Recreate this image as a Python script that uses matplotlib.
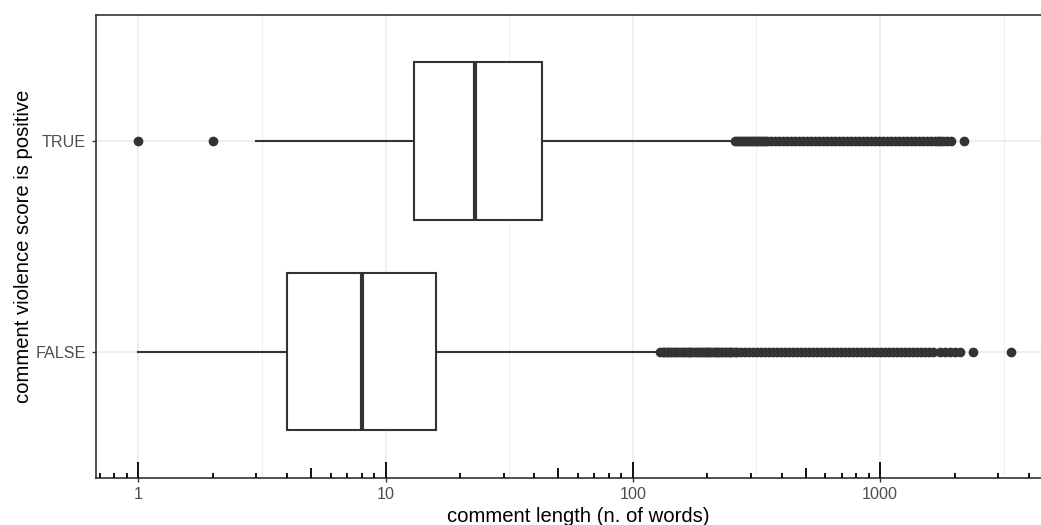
import numpy as np
import matplotlib
matplotlib.use("Agg")
import matplotlib.pyplot as plt

plt.rcParams['font.family'] = ['Liberation Sans', 'DejaVu Sans']

# five-number summaries (n. of words) per group
groups = ["FALSE", "TRUE"]
q1 = [4, 13]
median = [8, 23]
q3 = [16, 43]
whisker_lo = [1, 3]
whisker_hi = [125, 251]

# outlying comment lengths
outliers_false = [129, 132, 134, 137, 139, 142, 144, 147, 150, 153, 156, 159,
                  162, 165, 168, 171, 174, 178, 181, 185, 188, 192, 195, 199,
                  202, 206, 210, 214, 218, 222, 226, 230, 235, 239, 244, 248,
                  253, 258, 263, 273, 283, 294, 305,
                  317, 329, 341, 354, 368, 382, 396, 411, 427, 443, 460, 477,
                  495, 514, 534, 554, 575, 597, 620, 643, 668, 693, 719, 747,
                  775, 804, 835, 867, 900, 934, 969, 1006, 1044, 1084, 1125,
                  1168, 1212, 1258, 1306, 1356, 1407, 1460, 1516, 1573, 1640,
                  1746, 1829, 1914, 2004, 2099, 2381, 3390]
outliers_true = [1, 2, 259, 264, 269, 274, 279, 284, 290, 295, 301, 306, 312,
                 318, 324, 330, 336, 342, 349, 362, 376,
                 390, 405, 420, 436, 453, 470, 488, 506, 525, 545, 566, 587,
                 610, 633, 657, 682, 708, 735, 763, 792, 822, 853, 885, 919,
                 954, 990, 1028, 1067, 1107, 1149, 1193, 1238, 1285, 1334,
                 1385, 1437, 1492, 1549, 1607, 1668, 1712, 1745, 1790, 1858,
                 1928, 2190]

x_breaks = [1, 10, 100, 1000]
x_labels = ["1", "10", "100", "1000"]

dark = "#333333"
grid = "#EBEBEB"

fig = plt.figure(figsize=(10.41, 5.25), dpi=100)
# panel runs past the right edge of the figure
ax = fig.add_axes([95.7 / 1041, 47.3 / 525, 964.9 / 1041, 462.7 / 525])

stats = []
for i, g in enumerate(groups):
    stats.append(dict(label=g, q1=q1[i], med=median[i], q3=q3[i],
                      whislo=whisker_lo[i], whishi=whisker_hi[i],
                      fliers=[outliers_false, outliers_true][i]))

ax.bxp(stats, positions=[1, 2], widths=0.75, orientation='horizontal',
       showcaps=False, patch_artist=True,
       boxprops=dict(facecolor="white", edgecolor=dark, linewidth=1.5),
       medianprops=dict(color=dark, linewidth=3.0, solid_capstyle='butt'),
       whiskerprops=dict(color=dark, linewidth=1.5),
       flierprops=dict(marker='o', markerfacecolor=dark, markeredgecolor=dark,
                       markeredgewidth=0, markersize=7.0, linestyle='none'),
       zorder=3)

ax.set_xscale('log')

# grid: major at decades, minor halfway between
ax.set_xticks(x_breaks, x_labels)
ax.set_xticks([10 ** (k + 0.5) for k in range(-1, 4)], minor=True)
ax.xaxis.set_minor_formatter(matplotlib.ticker.NullFormatter())
ax.set_yticks([1, 2], groups)
ax.set_ylim(0.4, 2.6)
ax.grid(True, which='major', color=grid, linewidth=1.1, zorder=0)
ax.grid(True, which='minor', axis='x', color=grid, linewidth=0.6, zorder=0)
ax.set_axisbelow(True)

ax.tick_params(axis='both', which='major', direction='out', length=3,
               width=1.0, color=dark, labelcolor="#4D4D4D", labelsize=11.6,
               pad=4)
ax.tick_params(axis='x', which='minor', length=0)

for s in ax.spines.values():
    s.set_color(dark)
    s.set_linewidth(1.2)

# log ticks along the bottom of the panel
trans = ax.get_xaxis_transform()
h = 462.7
for k in range(-1, 4):
    for m in range(1, 10):
        v = m * 10.0 ** k
        if m == 1:
            ln = 16 / h
        elif m == 5:
            ln = 10 / h
        else:
            ln = 5 / h
        ax.plot([v, v], [0, ln], color="black", linewidth=1.3,
                transform=trans, clip_on=True, zorder=4,
                solid_capstyle='butt')

ax.set_xlim(10 ** -0.172, 10 ** 3.73)

ax.set_xlabel("comment length (n. of words)", fontsize=14.6, color="black",
              labelpad=3)
ax.set_ylabel("comment violence score is positive", fontsize=14.6,
              color="black", labelpad=2)

fig.savefig("out.png", dpi=100)
